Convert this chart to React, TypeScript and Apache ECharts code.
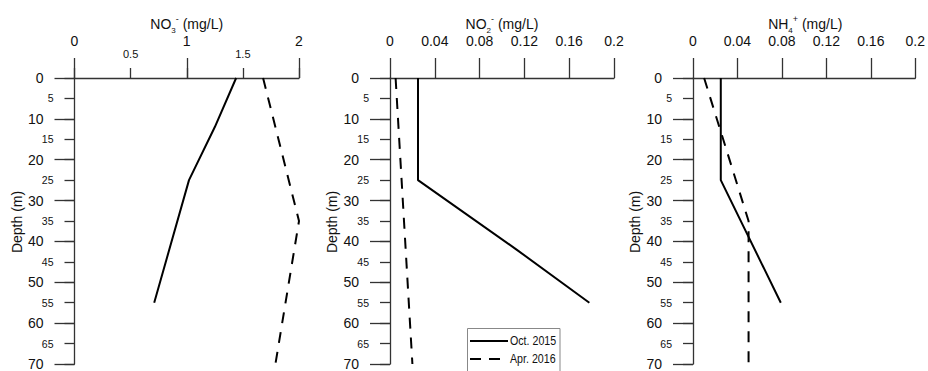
import React, { useEffect, useRef } from "react";
import * as echarts from "echarts";

// ---- data ----
const SERIES_NAMES = ["Oct. 2015", "Apr. 2016"];

// NO3- (mg/L)
const no3OctDepth = [0, 12, 25, 55];
const no3OctValue = [1.44, 1.25, 1.02, 0.71];
const no3AprDepth = [0, 35, 70];
const no3AprValue = [1.68, 2.0, 1.79];

// NO2- (mg/L)
const no2OctDepth = [0, 25, 42, 55];
const no2OctValue = [0.025, 0.025, 0.113, 0.178];
const no2AprDepth = [0, 70];
const no2AprValue = [0.005, 0.02];

// NH4+ (mg/L)
const nh4OctDepth = [0, 25, 55];
const nh4OctValue = [0.025, 0.025, 0.079];
const nh4AprDepth = [0, 35, 70];
const nh4AprValue = [0.01, 0.05, 0.05];

const depthMin = 0;
const depthMax = 70;
const no3Max = 2;
const smallMax = 0.2;
const DEPTH_TITLE = "Depth (m)";
const PANEL_TITLES = [
  "{n|NO}{sub|3}{sup|-}{n| (mg/L)}",
  "{n|NO}{sub|2}{sup|-}{n| (mg/L)}",
  "{n|NH}{sub|4}{sup|+}{n| (mg/L)}",
];

const FONT = "Liberation Sans, Arial, sans-serif";
const AXIS_COLOR = "#333";
const TEXT_COLOR = "#111";

const pair = (xs: number[], ys: number[]) => xs.map((d, i) => [ys[i], d]);

function titleRich() {
  return {
    n: { fontSize: 14, lineHeight: 20, verticalAlign: "middle", fill: TEXT_COLOR, fontFamily: FONT },
    sub: { fontSize: 8, lineHeight: 8, verticalAlign: "bottom", fill: TEXT_COLOR, fontFamily: FONT },
    sup: { fontSize: 9, lineHeight: 9, verticalAlign: "top", fill: TEXT_COLOR, fontFamily: FONT },
  };
}

export default function App() {
  const ref = useRef<HTMLDivElement>(null);
  useEffect(() => {
    if (!ref.current) return;
    const chart = echarts.init(ref.current, undefined, { renderer: "svg" });

    const grids = [
      { left: 74.5, top: 78, width: 224.5, height: 288 },
      { left: 390, top: 78, width: 224, height: 288 },
      { left: 693, top: 78, width: 224.5, height: 288 },
    ];

    const axisLine = { show: true, lineStyle: { color: AXIS_COLOR, width: 1.3 } };
    const noLine = { show: false };

    const majorX = (gridIndex: number, max: number, interval: number) => ({
      type: "value",
      gridIndex,
      position: "top",
      min: 0,
      max,
      interval,
      axisLine,
      axisTick: { show: true, length: 20, inside: false, lineStyle: { color: AXIS_COLOR, width: 1.3 } },
      axisLabel: {
        margin: 30,
        fontSize: 14,
        color: TEXT_COLOR,
        fontFamily: FONT,
        formatter: (v: number) => String(parseFloat(v.toFixed(3))),
      },
      splitLine: { show: false },
    });

    const xAxes: any[] = [
      majorX(0, no3Max, 1),
      {
        type: "value",
        gridIndex: 0,
        position: "top",
        min: 0,
        max: no3Max,
        interval: 0.5,
        axisLine: noLine,
        axisTick: { show: true, length: 10, lineStyle: { color: AXIS_COLOR, width: 1.3 } },
        axisLabel: {
          margin: 19,
          fontSize: 11,
          color: TEXT_COLOR,
          fontFamily: FONT,
          formatter: (v: number) => (Number.isInteger(v) ? "" : String(v)),
        },
        splitLine: { show: false },
      },
      majorX(1, smallMax, 0.04),
      majorX(2, smallMax, 0.04),
    ];

    const majorY = (gridIndex: number) => ({
      type: "value",
      gridIndex,
      position: "left",
      inverse: true,
      min: depthMin,
      max: depthMax,
      interval: 10,
      axisLine,
      axisTick: { show: true, length: 20, lineStyle: { color: AXIS_COLOR, width: 1.3 } },
      axisLabel: { margin: 31, fontSize: 14, color: TEXT_COLOR, fontFamily: FONT },
      splitLine: { show: false },
    });
    const minorY = (gridIndex: number) => ({
      type: "value",
      gridIndex,
      position: "left",
      offset: 0,
      inverse: true,
      min: depthMin,
      max: depthMax,
      interval: 5,
      axisLine: noLine,
      axisTick: { show: true, length: 10, lineStyle: { color: AXIS_COLOR, width: 1.3 } },
      axisLabel: {
        margin: 21,
        fontSize: 10.5,
        color: TEXT_COLOR,
        fontFamily: FONT,
        formatter: (v: number) => (v % 10 === 0 ? "" : String(v)),
      },
      splitLine: { show: false },
    });

    const yAxes: any[] = [majorY(0), minorY(0), majorY(1), minorY(1), majorY(2), minorY(2)];

    const solid = { color: "#000", width: 2, type: "solid" };
    const dashed = { color: "#000", width: 2, type: [11, 9] };

    const mk = (name: string, xi: number, yi: number, data: number[][], ls: any) => ({
      type: "line",
      name,
      xAxisIndex: xi,
      yAxisIndex: yi,
      data,
      symbol: "none",
      showSymbol: false,
      lineStyle: ls,
      itemStyle: { color: "#000" },
      emphasis: { disabled: true },
    });

    const series = [
      mk(SERIES_NAMES[0], 0, 0, pair(no3OctDepth, no3OctValue), solid),
      mk(SERIES_NAMES[1], 0, 0, pair(no3AprDepth, no3AprValue), dashed),
      mk(SERIES_NAMES[0], 2, 2, pair(no2OctDepth, no2OctValue), solid),
      mk(SERIES_NAMES[1], 2, 2, pair(no2AprDepth, no2AprValue), dashed),
      mk(SERIES_NAMES[0], 3, 4, pair(nh4OctDepth, nh4OctValue), solid),
      mk(SERIES_NAMES[1], 3, 4, pair(nh4AprDepth, nh4AprValue), dashed),
    ];

    const depthTitles = grids.map((g) => ({
      type: "text",
      x: g.left - 58,
      y: g.top + g.height / 2,
      rotation: Math.PI / 2,
      style: {
        text: DEPTH_TITLE,
        align: "center",
        verticalAlign: "middle",
        fontSize: 14,
        fill: TEXT_COLOR,
        fontFamily: FONT,
      },
    }));

    const panelTitles = grids.map((g, i) => ({
      type: "text",
      x: g.left + g.width / 2,
      y: 24,
      style: {
        text: PANEL_TITLES[i],
        align: "center",
        verticalAlign: "middle",
        rich: titleRich(),
        fontSize: 14,
        fill: TEXT_COLOR,
        fontFamily: FONT,
      },
    }));

    const legendEls: any[] = [];
    SERIES_NAMES.forEach((name, i) => {
      const y = 341 + i * 18;
      legendEls.push({
        type: "line",
        z: 60,
        shape: { x1: 470, y1: y, x2: i === 0 ? 508 : 506, y2: y },
        style: i === 0 ? { stroke: "#000", lineWidth: 2 } : { stroke: "#000", lineWidth: 2, lineDash: [11, 8] },
      });
      legendEls.push({
        type: "text",
        z: 60,
        x: 510,
        y,
        scaleX: 0.82,
        style: {
          text: name,
          align: "left",
          verticalAlign: "middle",
          fontSize: 13,
          fill: TEXT_COLOR,
          fontFamily: FONT,
        },
      });
    });

    chart.setOption({
      animation: false,
      backgroundColor: "#fff",
      grid: grids,
      xAxis: xAxes,
      yAxis: yAxes,
      graphic: [
        ...panelTitles,
        ...depthTitles,
        {
          type: "rect",
          z: 50,
          shape: { x: 467.5, y: 328.5, width: 92.5, height: 60 },
          style: { fill: "#fff", stroke: "#888", lineWidth: 1 },
        },
        ...legendEls,
      ],
      series,
    });
    return () => chart.dispose();
  }, []);
  return <div ref={ref} style={{ position: "absolute", left: 0, top: 0, width: 928, height: 371 }} />;
}
